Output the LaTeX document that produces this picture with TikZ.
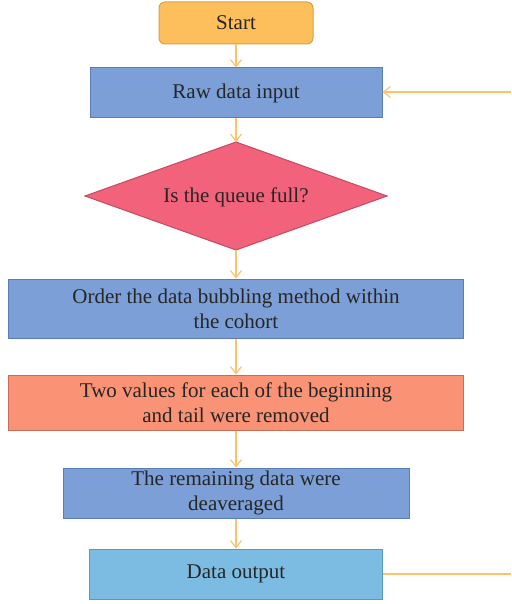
\documentclass[tikz,border=0pt]{standalone}
\usepackage{fontspec}
\setmainfont{Liberation Serif}
\usetikzlibrary{arrows.meta,calc}

\definecolor{startfill}{HTML}{FDBF5C}
\definecolor{startline}{HTML}{D9A04A}
\definecolor{procfill}{HTML}{7B9FD6}
\definecolor{procline}{HTML}{5A7DBA}
\definecolor{decfill}{HTML}{F2627B}
\definecolor{decline}{HTML}{C24B62}
\definecolor{salfill}{HTML}{FA9275}
\definecolor{salline}{HTML}{C86E58}
\definecolor{outfill}{HTML}{7DBCE2}
\definecolor{outline}{HTML}{5A98C2}
\definecolor{flow}{HTML}{FDC36A}

\tikzset{
  base/.style={draw, line width=1pt, inner sep=0pt, align=center,
    font=\fontsize{21}{25}\selectfont, text=black!85},
  startbox/.style={base, fill=startfill, draw=startline, rounded corners=6pt},
  procbox/.style={base, fill=procfill, draw=procline},
  decshape/.style={fill=decfill, draw=decline, line width=1pt},
  dectext/.style={base, draw=none},
  salbox/.style={base, fill=salfill, draw=salline},
  outbox/.style={base, fill=outfill, draw=outline},
  flowline/.style={draw=flow, line width=1.5pt,
    -{Straight Barb[length=7pt,width=11pt,line width=1.2pt]}},
  plainline/.style={draw=flow, line width=1.5pt}
}

\begin{document}
\begin{tikzpicture}[x=1pt, y=-1pt]
  \useasboundingbox (0,0) rectangle (511,604);

  \node[startbox, minimum width=154pt, minimum height=42pt] (start) at (236,23) {Start};
  \node[procbox, minimum width=292pt, minimum height=50pt] (raw) at (236,93) {Raw data input};

  % decision diamond: outline drawn as a path, label as a node on top
  \coordinate (qc) at (236,196);
  \path[decshape] (qc) +(-151,0) -- +(0,-54) -- +(151,0) -- +(0,54) -- cycle;
  \coordinate (qtop) at ($(qc)+(0,-54)$);
  \coordinate (qbot) at ($(qc)+(0,54)$);
  \node[dectext] (queue) at ($(qc)+(0,1)$) {Is the queue full?};

  \node[procbox, minimum width=455pt, minimum height=59pt] (order) at (236,308.5)
    {Order the data bubbling method within\\the cohort};
  \node[salbox, minimum width=455pt, minimum height=55pt] (trim) at (236,402.5)
    {Two values for each of the beginning\\and tail were removed};
  \node[procbox, minimum width=346pt, minimum height=50pt] (rest) at (236,493)
    {The remaining data were\\deaveraged};
  \node[outbox, minimum width=293pt, minimum height=50pt] (output) at (236,574) {Data output};

  \coordinate (loopin) at (511,92);
  \coordinate (loopout) at (511,574);

  \draw[flowline] (start) -- (raw);
  \draw[flowline] (raw) -- (qtop);
  \draw[flowline] (qbot) -- (order);
  \draw[flowline] (order) -- (trim);
  \draw[flowline] (trim) -- (rest);
  \draw[flowline] (rest) -- (output);
  \draw[flowline] (loopin) -- (raw.east |- loopin);
  \draw[plainline] (output.east) -- (loopout);
\end{tikzpicture}
\end{document}
